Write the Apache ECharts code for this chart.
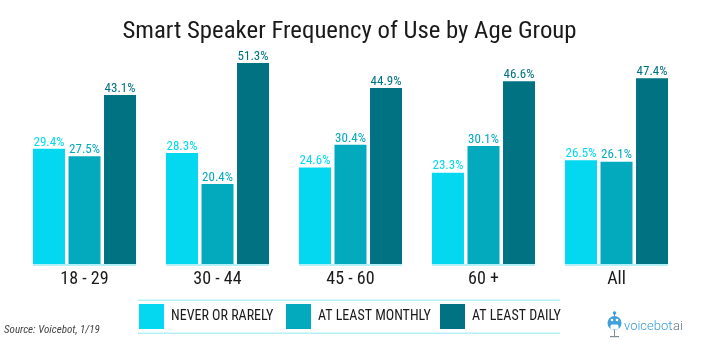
<!DOCTYPE html>
<html><head><meta charset="utf-8">
<style>html,body{margin:0;padding:0;background:#fff}#c{width:722px;height:361px}</style>
<script src="https://cdn.jsdelivr.net/npm/echarts@6/dist/echarts.min.js"></script></head>
<body><div id="c"></div>
<script>
const categories = ['18 - 29','30 - 44','45 - 60','60 +','All'];
const neverOrRarely = [29.4,28.3,24.6,23.3,26.5];
const atLeastMonthly = [27.5,20.4,30.4,30.1,26.1];
const atLeastDaily = [43.1,51.3,44.9,46.6,47.4];
const titleText = 'Smart Speaker Frequency of Use by Age Group';
const sourceText = 'Source: Voicebot, 1/19';
const C1='#04d8f0', C2='#03a9bd', C3='#007282', RULE='#b5f0f7';
const FONT="Roboto,sans-serif";
const W='condensed';
const chart = echarts.init(document.getElementById('c'),null,{renderer:'canvas'});
function bar(name,data,color){
  return {name,type:'bar',data,barWidth:32,barGap:'11%',
    itemStyle:{color},
    label:{show:true,position:'top',distance:0,color,fontFamily:FONT,fontWeight:W,fontSize:13,formatter:p=>p.value.toFixed(1)+'%'}};
}
function leg(name,left){
  return {data:[name],left,top:304,itemWidth:25,itemHeight:25,itemGap:0,padding:0,icon:'rect',
    textStyle:{color:'#1a1a1a',fontFamily:FONT,fontWeight:W,fontSize:14,padding:[0,0,0,2]},selectedMode:false};
}
chart.setOption({
  animation:false,
  backgroundColor:'#fff',
  title:{text:titleText,left:344.5,textAlign:'center',top:14,textStyle:{color:'#1a1a1a',fontFamily:FONT,fontWeight:W,fontSize:24.8}},
  grid:{left:18,right:39,top:21,bottom:97},
  xAxis:{type:'category',data:categories,axisLine:{show:false},axisTick:{show:false},
    axisLabel:{color:'#1a1a1a',fontFamily:FONT,fontWeight:W,fontSize:18,margin:6}},
  yAxis:{type:'value',min:0,max:62,show:false,splitLine:{show:false}},
  legend:[leg('NEVER OR RARELY',139),leg('AT LEAST MONTHLY',286),leg('AT LEAST DAILY',440)],
  series:[
    bar('NEVER OR RARELY',neverOrRarely,C1),
    bar('AT LEAST MONTHLY',atLeastMonthly,C2),
    bar('AT LEAST DAILY',atLeastDaily,C3),
    {type:'custom',silent:true,legendHoverLink:false,data:categories.map((c,i)=>[i]),encode:{x:0},
     renderItem(params,api){
       const p=api.coord([api.value(0),0]);
       return {type:'line',shape:{x1:p[0]-51.5,y1:p[1]+1,x2:p[0]+51.5,y2:p[1]+1},style:{stroke:RULE,lineWidth:2}};
     }}
  ],
  graphic:[
    {type:'rect',shape:{x:138,y:299.5,width:422,height:1.5},style:{fill:RULE}},
    {type:'rect',shape:{x:138,y:332.5,width:422,height:1.5},style:{fill:RULE}},
    {type:'text',x:4,y:325,style:{text:sourceText,fill:'#444',fontFamily:FONT,fontStyle:'italic',fontWeight:W,fontSize:11}},
    {type:'group',x:607,y:312,children:[
      {type:'rect',shape:{x:7,y:0,width:1,height:25},style:{fill:'#7d8b93'}},
      {type:'circle',shape:{cx:7.5,cy:1,r:1.8},style:{fill:'#3fa0dc'}},
      {type:'circle',shape:{cx:7.5,cy:11,r:7},style:{fill:'#3fa0dc'}},
      {type:'rect',shape:{x:3.5,y:12.5,width:8,height:5,r:1.5},style:{fill:'#fff'}},
      {type:'circle',shape:{cx:5,cy:8,r:1.3},style:{fill:'#fff'}},
      {type:'circle',shape:{cx:10,cy:8,r:1.3},style:{fill:'#fff'}},
      {type:'rect',shape:{x:3,y:24,width:9,height:1.2},style:{fill:'#7d8b93'}}
    ]},
    {type:'text',x:624,y:320.5,style:{text:'voicebot',fill:'#3a9bd8',fontFamily:FONT,fontWeight:300,fontSize:13}},
    {type:'text',x:670,y:320.5,style:{text:'.ai',fill:'#6b7a83',fontFamily:FONT,fontWeight:300,fontSize:13}}
  ]
});
</script></body></html>
